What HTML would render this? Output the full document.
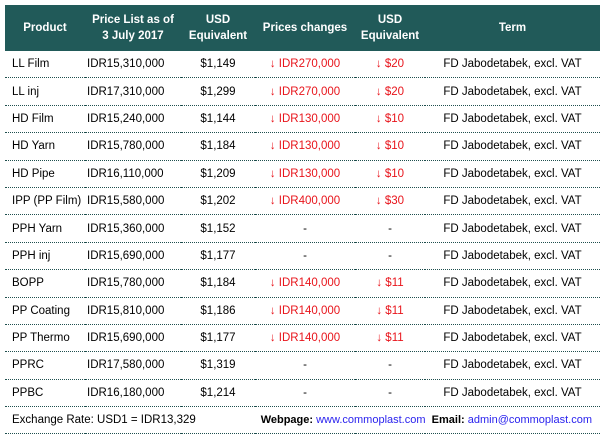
<!DOCTYPE html>
<html><head><meta charset="utf-8">
<style>
html,body{margin:0;padding:0;background:#fff;width:608px;height:439px;overflow:hidden}
body{font-family:"Liberation Sans",sans-serif;font-size:11.5px;color:#000}
table{position:absolute;left:5px;top:5px;border-collapse:collapse;table-layout:fixed;width:595px}
th{background:#215a59;color:#fff;font-weight:bold;height:46px;padding:0;line-height:16px;font-size:11.5px}
td{height:26.4px;padding:0;border-bottom:1.5px dotted #1f4f4e;white-space:nowrap;text-align:center}
td.p{text-align:left;padding-left:7px}
td.l{text-align:left;padding-left:2px}
.r{color:#e8141b}
.blue{color:#2a22ee}
b{font-weight:bold}
</style></head><body>
<table>
<colgroup><col style="width:80px"><col style="width:96px"><col style="width:74px"><col style="width:100px"><col style="width:70px"><col style="width:175px"></colgroup>
<tr>
<th>Product</th>
<th>Price List as of<br>3 July 2017</th>
<th>USD<br>Equivalent</th>
<th>Prices changes</th>
<th>USD<br>Equivalent</th>
<th>Term</th>
</tr>
<tr><td class="p">LL Film</td><td class="l">IDR15,310,000</td><td>$1,149</td><td class="r">↓ IDR270,000</td><td class="r">↓ $20</td><td>FD Jabodetabek, excl. VAT</td></tr>
<tr><td class="p">LL inj</td><td class="l">IDR17,310,000</td><td>$1,299</td><td class="r">↓ IDR270,000</td><td class="r">↓ $20</td><td>FD Jabodetabek, excl. VAT</td></tr>
<tr><td class="p">HD Film</td><td class="l">IDR15,240,000</td><td>$1,144</td><td class="r">↓ IDR130,000</td><td class="r">↓ $10</td><td>FD Jabodetabek, excl. VAT</td></tr>
<tr><td class="p">HD Yarn</td><td class="l">IDR15,780,000</td><td>$1,184</td><td class="r">↓ IDR130,000</td><td class="r">↓ $10</td><td>FD Jabodetabek, excl. VAT</td></tr>
<tr><td class="p">HD Pipe</td><td class="l">IDR16,110,000</td><td>$1,209</td><td class="r">↓ IDR130,000</td><td class="r">↓ $10</td><td>FD Jabodetabek, excl. VAT</td></tr>
<tr><td class="p">IPP (PP Film)</td><td class="l">IDR15,580,000</td><td>$1,202</td><td class="r">↓ IDR400,000</td><td class="r">↓ $30</td><td>FD Jabodetabek, excl. VAT</td></tr>
<tr><td class="p">PPH Yarn</td><td class="l">IDR15,360,000</td><td>$1,152</td><td>-</td><td>-</td><td>FD Jabodetabek, excl. VAT</td></tr>
<tr><td class="p">PPH inj</td><td class="l">IDR15,690,000</td><td>$1,177</td><td>-</td><td>-</td><td>FD Jabodetabek, excl. VAT</td></tr>
<tr><td class="p">BOPP</td><td class="l">IDR15,780,000</td><td>$1,184</td><td class="r">↓ IDR140,000</td><td class="r">↓ $11</td><td>FD Jabodetabek, excl. VAT</td></tr>
<tr><td class="p">PP Coating</td><td class="l">IDR15,810,000</td><td>$1,186</td><td class="r">↓ IDR140,000</td><td class="r">↓ $11</td><td>FD Jabodetabek, excl. VAT</td></tr>
<tr><td class="p">PP Thermo</td><td class="l">IDR15,690,000</td><td>$1,177</td><td class="r">↓ IDR140,000</td><td class="r">↓ $11</td><td>FD Jabodetabek, excl. VAT</td></tr>
<tr><td class="p">PPRC</td><td class="l">IDR17,580,000</td><td>$1,319</td><td>-</td><td>-</td><td>FD Jabodetabek, excl. VAT</td></tr>
<tr><td class="p">PPBC</td><td class="l">IDR16,180,000</td><td>$1,214</td><td>-</td><td>-</td><td>FD Jabodetabek, excl. VAT</td></tr>
<tr>
<td colspan="3" class="p">Exchange Rate: USD1 = IDR13,329</td>
<td colspan="3" style="text-align:right;padding-right:8px;font-size:11px"><b>Webpage:</b> <span class="blue">www.commoplast.com</span> &nbsp;<b>Email:</b> <span class="blue">admin@commoplast.com</span></td>
</tr>
</table>
</body></html>
